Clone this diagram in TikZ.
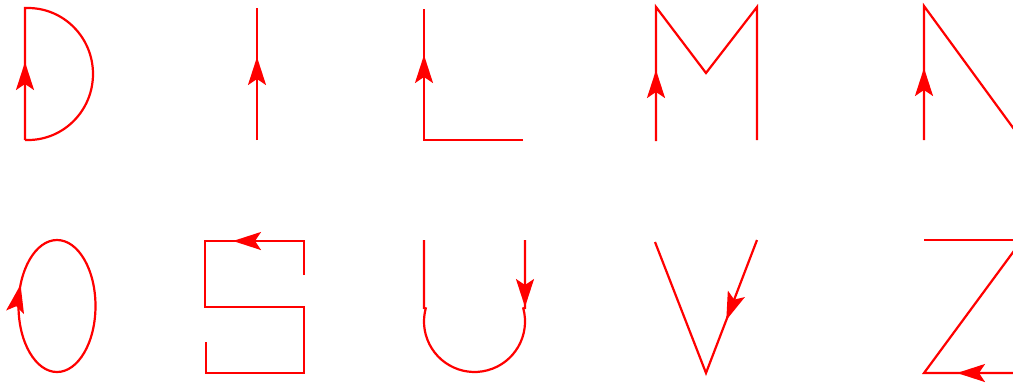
\documentclass[tikz,border=0pt]{standalone}
\usepackage{tikz}
\usetikzlibrary{arrows.meta, decorations.markings}

\begin{document}
\begin{tikzpicture}[
        x=0.5pt, y=-0.5pt,
        letter/.style={red, line width=1.1pt},
        midarrow/.style={postaction={decorate}, decoration={markings,
            mark=at position #1 with {\arrow{Stealth[length=14pt, width=9pt, inset=3pt]}}}}
    ]
    \useasboundingbox (0,0) rectangle (1013,382);
    \clip (0,0) rectangle (1013,382);

    % top row
    \draw [letter, midarrow=39pt] (25,140) -- (25,8) -- (28,8)
        arc [start angle=90, end angle=-90, x radius=32.5pt, y radius=33pt] -- (25,140);
    \draw [letter, midarrow=41.5pt] (257,140) -- (257,8);
    \draw [letter, midarrow=92pt] (523,140) -- (424,140) -- (424,9);
    \draw [letter, midarrow=35.5pt] (656,141) -- (656,7) -- (706,73) -- (757,7) -- (757,140);
    \draw [letter, midarrow=36pt] (924,140) -- (924,6) -- (1022,140);

    % bottom row
    \draw [letter, midarrow=52.5pt] (57,372)
        arc [start angle=270, end angle=-90, x radius=19.25pt, y radius=33pt];
    \draw [letter, midarrow=52.5pt] (304,275) -- (304,241) -- (205,241) -- (205,307)
        -- (304,307) -- (304,373) -- (206,373) -- (206,342);
    \draw [letter, midarrow=33.5pt] (525,240) -- (525,308) -- (523.3,308.4)
        arc [start angle=15, end angle=-195, radius=25.25pt] -- (424,308) -- (424,240);
    \draw [letter, midarrow=42.9pt] (757,240) -- (706,373) -- (655,242);
    \draw [letter] (924,240) -- (1023,240);
    \draw [letter, midarrow=33pt] (1023,373) -- (924,373) -- (1022,240);
\end{tikzpicture}
\end{document}
